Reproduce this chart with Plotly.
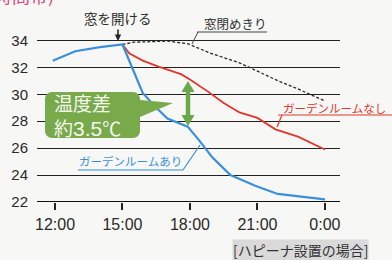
import math
import plotly.graph_objects as go

# ---- data (hours since 0:00 of the day; 24 = 0:00 next day) ----
blue_hours = [11.9, 12.9, 14.0, 15.0, 15.9, 16.5, 17.0, 17.9, 18.4, 19.0, 19.8, 20.9, 21.9, 24.0]
blue_temps = [32.5, 33.2, 33.5, 33.7, 30.1, 29.0, 28.2, 27.6, 26.6, 25.3, 24.0, 23.2, 22.6, 22.2]

red_hours = [15.0, 15.3, 15.9, 16.6, 17.6, 18.0, 18.8, 19.5, 20.2, 21.0, 21.8, 22.8, 24.0]
red_temps = [33.7, 33.05, 32.5, 32.05, 31.5, 31.1, 30.2, 29.35, 28.65, 28.25, 27.4, 26.85, 25.9]

closed_hours = [15.0, 15.5, 17.0, 17.9, 18.9, 20.2, 22.0, 22.8, 24.0]
closed_temps = [33.7, 33.87, 33.95, 33.76, 33.06, 32.34, 30.94, 30.4, 29.5]

x_tickvals = [12, 15, 18, 21, 24]
x_ticktext = ["12:00", "15:00", "18:00", "21:00", "0:00"]
y_tickvals = [22, 24, 26, 28, 30, 32, 34]

# ---- layout geometry ----
W, H = 392, 260
L, R, T, B = 37, 52, 20, 58
XR = [11.2, 24.67]
YR = [22.0, 35.52]
PW, PH = W - L - R, H - T - B


def px2x(px):
    return XR[0] + (px - L) / PW * (XR[1] - XR[0])


def py2y(py):
    return YR[1] - (py - T) / PH * (YR[1] - YR[0])


def pxp(px):
    return (px - L) / PW


def pyp(py):
    return 1 - (py - T) / PH


JP = "Noto Sans CJK JP"
NUM = "Liberation Sans"
BLUE = "#3a8fdc"
RED = "#e2362c"
GREEN = "#78aa4c"

fig = go.Figure()
fig.add_trace(go.Scatter(x=closed_hours, y=closed_temps, mode="lines",
                         line=dict(color="#2b2b2b", width=1.3, dash="3px,2px"),
                         showlegend=False, hoverinfo="skip"))
fig.add_trace(go.Scatter(x=red_hours, y=red_temps, mode="lines",
                         line=dict(color=RED, width=1.8),
                         showlegend=False, hoverinfo="skip"))
fig.add_trace(go.Scatter(x=blue_hours, y=blue_temps, mode="lines",
                         line=dict(color=BLUE, width=2.2),
                         showlegend=False, hoverinfo="skip"))

shapes = []


def seg(x0, y0, x1, y1, color, width):
    shapes.append(dict(type="line", xref="paper", yref="paper",
                       x0=pxp(x0), y0=pyp(y0), x1=pxp(x1), y1=pyp(y1),
                       line=dict(color=color, width=width), layer="above"))


def path(points, fill):
    d = "M " + " L ".join(f"{pxp(a)},{pyp(b)}" for a, b in points) + " Z"
    shapes.append(dict(type="path", xref="paper", yref="paper", path=d,
                       fillcolor=fill, line=dict(width=0), layer="above"))


# green callout box with rounded corners and pointer
x0, y0, x1, y1, r = 45, 92, 140, 138, 7


def arc(cx, cy, a0, a1):
    out = []
    for i in range(7):
        a = math.radians(a0 + (a1 - a0) * i / 6)
        out.append((cx + r * math.cos(a), cy + r * math.sin(a)))
    return out


pts = []
pts += arc(x0 + r, y0 + r, 180, 270)
pts += arc(x1 - r, y0 + r, 270, 360)
pts += [(x1, 100), (173, 103), (x1, 117)]
pts += arc(x1 - r, y1 - r, 0, 90)
pts += arc(x0 + r, y1 - r, 90, 180)
path(pts, GREEN)

# green double arrow
AG = "#6aa84a"
seg(188, 90, 188, 117, AG, 4.5)
path([(188, 81), (181.5, 92), (194.5, 92)], AG)
path([(188, 126), (181.5, 115), (194.5, 115)], AG)

# leader lines
seg(197, 32, 267, 32, "#444", 1)
seg(198, 32, 192, 44, "#444", 1)
seg(278, 115, 392, 115, RED, 1.2)
seg(282, 115, 277, 127, RED, 1.2)
seg(78, 170, 183, 170, BLUE, 1.2)
seg(183, 170, 200, 145, BLUE, 1.2)

# thicker base line at 22
shapes.append(dict(type="line", xref="paper", yref="y", x0=0, x1=1, y0=22, y1=22,
                   line=dict(color="#111", width=2.2), layer="above"))


def label(px, py, text, size, color, xanchor="center", **kw):
    return dict(xref="paper", yref="paper", x=pxp(px), y=pyp(py),
                xanchor=xanchor, yanchor="middle", text=text, showarrow=False,
                font=dict(family=JP, size=size, color=color), **kw)


annotations = [
    dict(x=px2x(118), y=py2y(41), ax=0, ay=-23, text="窓を開ける", showarrow=True,
         arrowhead=2, arrowsize=0.8, arrowwidth=1.6, arrowcolor="#222",
         font=dict(family=JP, size=13.5, color="#2a2a2a")),
    label(56, -5, "時間帯)", 18, "#e2447e", xanchor="right"),
    label(235, 23, "窓閉めきり", 12.5, "#333"),
    label(334, 107.5, "ガーデンルームなし", 11.5, RED),
    label(130, 161, "ガーデンルームあり", 11.5, BLUE),
    label(52, 115,
          "温度差<br>約<span style='font-family:Liberation Sans;font-size:21px'>3.5</span>℃",
          19, "#f5f8ef", xanchor="left", align="left"),
    label(300, 249.5, "[ハピーナ設置の場合]", 14, "#333", bgcolor="#dadada", borderpad=0),
]

fig.update_layout(
    width=W, height=H,
    margin=dict(l=L, r=R, t=T, b=B, autoexpand=False),
    paper_bgcolor="#f7f7f5", plot_bgcolor="#f7f7f5",
    shapes=shapes, annotations=annotations,
    xaxis=dict(range=XR, tickvals=x_tickvals, ticktext=x_ticktext, automargin=False,
               showgrid=False, zeroline=False, showline=False,
               ticks="outside", ticklen=7, tickwidth=1.6, tickcolor="#222",
               ticklabelstandoff=1,
               tickfont=dict(family=NUM, size=16, color="#2a2a2a")),
    yaxis=dict(range=YR, tickvals=y_tickvals, showgrid=True, gridcolor="#222",
               automargin=False,
               gridwidth=1.2, zeroline=False, showline=False, ticks="",
               ticklabelstandoff=8,
               tickfont=dict(family=NUM, size=15, color="#2a2a2a")),
)

fig.write_html("out.html", config={"displayModeBar": False},
               post_script="document.body.style.margin='0';document.body.style.background='#f7f7f5';")
